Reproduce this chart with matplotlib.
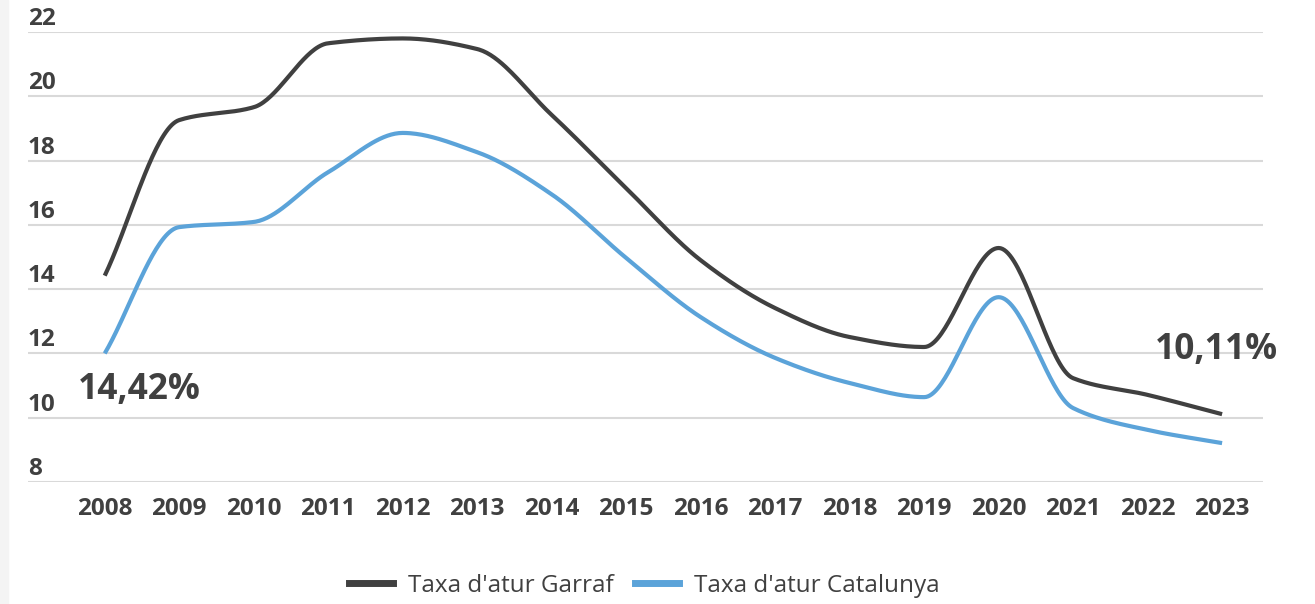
import numpy as np
import matplotlib.pyplot as plt
from matplotlib.lines import Line2D
from matplotlib.patches import Rectangle
from matplotlib.transforms import blended_transform_factory, offset_copy

years = list(range(2008, 2024))
garraf = [14.42, 19.26, 19.66, 21.65, 21.8, 21.47, 19.42, 17.14, 14.9, 13.41,
          12.51, 12.2, 15.28, 11.23, 10.71, 10.11]
catalunya = [12.0, 15.93, 16.09, 17.64, 18.86, 18.26, 16.95, 14.97, 13.13, 11.86,
             11.08, 10.64, 13.75, 10.3, 9.62, 9.21]
yticks = [8, 10, 12, 14, 16, 18, 20, 22]

TXT = '#404040'
BLACK = '#404040'
BLUE = '#5ba3d9'
plt.rcParams['font.family'] = ['Open Sans', 'DejaVu Sans']


def smooth(x, y, n=40):
    # monotone cubic (Fritsch-Carlson), no overshoot between points
    x = np.asarray(x, float)
    y = np.asarray(y, float)
    h = np.diff(x)
    d = np.diff(y) / h
    m = np.zeros_like(y)
    m[0], m[-1] = d[0], d[-1]
    for i in range(1, len(y) - 1):
        if d[i - 1] * d[i] > 0:
            w1 = 2 * h[i] + h[i - 1]
            w2 = h[i] + 2 * h[i - 1]
            m[i] = (w1 + w2) / (w1 / d[i - 1] + w2 / d[i])
    xs, ys = [], []
    t = np.linspace(0, 1, n)
    for i in range(len(x) - 1):
        h00 = 2 * t ** 3 - 3 * t ** 2 + 1
        h10 = t ** 3 - 2 * t ** 2 + t
        h01 = -2 * t ** 3 + 3 * t ** 2
        h11 = t ** 3 - t ** 2
        xs.extend(x[i] + t * h[i])
        ys.extend(h00 * y[i] + h10 * h[i] * m[i] + h01 * y[i + 1] + h11 * h[i] * m[i + 1])
    return xs, ys


fig = plt.figure(figsize=(13.15, 6.04), dpi=100)
fig.patches.append(Rectangle((0, 0), 0.006, 1, transform=fig.transFigure,
                             color='#f4f4f4', zorder=0))
ax = fig.add_axes([0.0213, 0.202, 0.9392, 0.745])

ax.plot(*smooth(years, garraf), color=BLACK, lw=3, solid_capstyle='butt')
ax.plot(*smooth(years, catalunya), color=BLUE, lw=3, solid_capstyle='butt')

ax.set_xlim(2006.97, 2023.55)
ax.set_ylim(8, 22)
ax.set_yticks(yticks)
ax.set_yticklabels([])
ax.tick_params(axis='y', length=0)
ax.grid(axis='y', color='#d9d9d9', lw=1.5)
ax.set_axisbelow(True)
for s in ax.spines.values():
    s.set_visible(False)

ax.set_xticks(years)
ax.set_xticklabels([str(y) for y in years], fontsize=17.5, fontweight='bold', color=TXT)
ax.tick_params(axis='x', length=0, pad=11)

# y labels sit above their gridline at the left edge
tr = offset_copy(blended_transform_factory(ax.transAxes, ax.transData), fig=fig, x=0, y=5, units='points')
for v in yticks:
    ax.text(0, v, str(v), transform=tr, ha='left', va='baseline', fontsize=17.5,
            fontweight='bold', color=TXT)

ax.text(2008.47, 10.86, '14,42%', fontsize=25.5, fontweight='bold', color=TXT,
        ha='center', va='center')
ax.text(2022.93, 12.1, '10,11%', fontsize=25.5, fontweight='bold', color=TXT,
        ha='center', va='center', clip_on=False)

handles = [Line2D([], [], color=BLACK, lw=5), Line2D([], [], color=BLUE, lw=5)]
fig.legend(handles, ["Taxa d'atur Garraf", "Taxa d'atur Catalunya"],
           loc='center', bbox_to_anchor=(0.49, 0.03), ncol=2, frameon=False,
           fontsize=17.5, handlelength=1.8, handletextpad=0.6, columnspacing=0.9,
           labelcolor=TXT)

fig.savefig('out.png', dpi=100)
